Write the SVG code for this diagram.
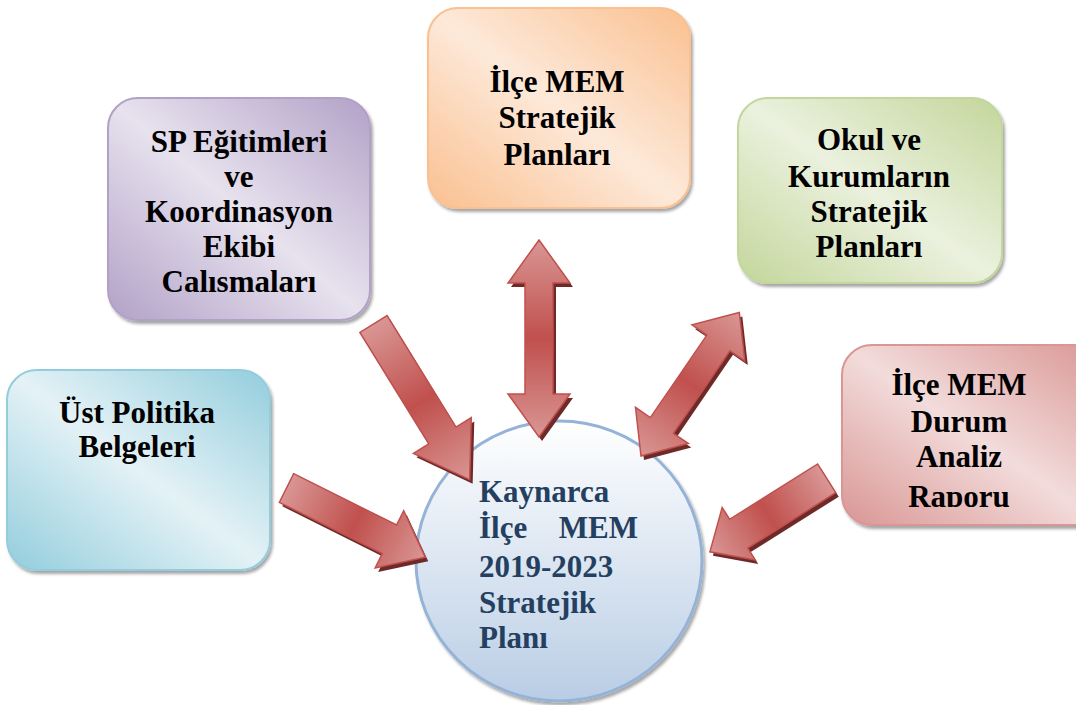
<svg xmlns="http://www.w3.org/2000/svg" width="1076" height="705" viewBox="0 0 1076 705">
<style>
.t{font-family:"Liberation Serif","Times New Roman",serif;font-weight:bold;font-size:31px;fill:#000;text-anchor:middle}
.c{font-family:"Liberation Serif","Times New Roman",serif;font-weight:bold;font-size:31px;fill:#243f60}
.box{stroke-width:2;filter:url(#sh)}
.arr{fill:url(#ag);stroke:#c0504d;stroke-width:1.5;stroke-linejoin:miter}
.ash{fill:#6e2a29}
</style>
<defs>
<filter id="sh" x="-10%" y="-10%" width="125%" height="125%">
<feDropShadow dx="2" dy="3" stdDeviation="1.5" flood-color="#000" flood-opacity="0.35"/>
</filter>
<linearGradient id="gBlue" x1="1" y1="0" x2="0" y2="1"><stop offset="0" stop-color="#93cddd"/><stop offset="0.5" stop-color="#e4f2f6"/><stop offset="1" stop-color="#93cddd"/></linearGradient>
<linearGradient id="gPurple" x1="1" y1="0" x2="0" y2="1"><stop offset="0" stop-color="#b2a1c7"/><stop offset="0.5" stop-color="#e7e2ee"/><stop offset="1" stop-color="#b2a1c7"/></linearGradient>
<linearGradient id="gOrange" x1="1" y1="0" x2="0" y2="1"><stop offset="0" stop-color="#fac090"/><stop offset="0.5" stop-color="#fde9d9"/><stop offset="1" stop-color="#fac090"/></linearGradient>
<linearGradient id="gGreen" x1="1" y1="0" x2="0" y2="1"><stop offset="0" stop-color="#c3d69b"/><stop offset="0.5" stop-color="#ebf1de"/><stop offset="1" stop-color="#c3d69b"/></linearGradient>
<linearGradient id="gPink" x1="1" y1="0" x2="0" y2="1"><stop offset="0" stop-color="#d99694"/><stop offset="0.5" stop-color="#f2dcdb"/><stop offset="1" stop-color="#d99694"/></linearGradient>
<linearGradient id="gCircle" x1="0" y1="0" x2="0" y2="1"><stop offset="0" stop-color="#ffffff"/><stop offset="1" stop-color="#b9cde5"/></linearGradient>
<linearGradient id="ag" x1="0" y1="0" x2="1" y2="0"><stop offset="0" stop-color="#d99694"/><stop offset="0.5" stop-color="#c0504d"/><stop offset="1" stop-color="#d99694"/></linearGradient>
<clipPath id="clipPink"><rect x="830" y="330" width="260" height="177"/></clipPath>
</defs>
<rect width="1076" height="705" fill="#fff"/>

<g id="node-ust">
<rect class="box" x="7" y="370" width="263" height="200" rx="30" fill="url(#gBlue)" stroke="#93cddd"/>
<text class="t" x="137" y="423">Üst Politika</text>
<text class="t" x="137" y="457">Belgeleri</text>
</g>

<g id="node-sp">
<rect class="box" x="108" y="98" width="262" height="222" rx="30" fill="url(#gPurple)" stroke="#b2a1c7"/>
<text class="t" x="239" y="152">SP Eğitimleri</text>
<text class="t" x="239" y="187">ve</text>
<text class="t" x="239" y="222">Koordinasyon</text>
<text class="t" x="239" y="257">Ekibi</text>
<text class="t" x="239" y="292">Calısmaları</text>
</g>

<g id="node-ilce">
<rect class="box" x="428" y="8" width="262" height="200" rx="30" fill="url(#gOrange)" stroke="#fac090"/>
<text class="t" x="557" y="92">İlçe MEM</text>
<text class="t" x="557" y="128">Stratejik</text>
<text class="t" x="557" y="165">Planları</text>
</g>

<g id="node-okul">
<rect class="box" x="738" y="98" width="264" height="185" rx="30" fill="url(#gGreen)" stroke="#c3d69b"/>
<text class="t" x="869" y="150">Okul ve</text>
<text class="t" x="869" y="187">Kurumların</text>
<text class="t" x="869" y="222">Stratejik</text>
<text class="t" x="869" y="257">Planları</text>
</g>

<g id="node-durum">
<rect class="box" x="842" y="345" width="262" height="180" rx="30" fill="url(#gPink)" stroke="#d99694"/>
<g clip-path="url(#clipPink)">
<text class="t" x="959" y="395">İlçe MEM</text>
<text class="t" x="959" y="432">Durum</text>
<text class="t" x="959" y="467">Analiz</text>
<text class="t" x="959" y="507">Raporu</text>
</g>
</g>

<g id="node-center">
<ellipse cx="559" cy="561" rx="143" ry="140" fill="url(#gCircle)" stroke="#95b3d7" stroke-width="3" filter="url(#sh)"/>
<text class="c" x="479" y="502">Kaynarca</text>
<text class="c" x="479" y="538">İlçe</text>
<text class="c" x="638" y="538" text-anchor="end">MEM</text>
<text class="c" x="479" y="577">2019-2023</text>
<text class="c" x="479" y="613">Stratejik</text>
<text class="c" x="479" y="648">Planı</text>
</g>

<g id="connectors">
<g transform="translate(3,4)">
<polygon class="ash" transform="translate(286.5,488) rotate(26.5)" points="0,-16 115,-16 115,-32 155,0 115,32 115,16 0,16"/>
<polygon class="ash" transform="translate(373.5,324) rotate(58.3)" points="0,-16 131,-16 131,-34 183,0 131,34 131,16 0,16"/>
<polygon class="ash" transform="translate(539,240) rotate(90)" points="0,0 43,-31 43,-14 154,-14 154,-31 197,0 154,31 154,14 43,14 43,31"/>
<polygon class="ash" transform="translate(641,456) rotate(-55.6)" points="0,0 37,-32 37,-14 137,-14 137,-32 174,0 137,32 137,14 37,14 37,32"/>
<polygon class="ash" transform="translate(826.7,478.3) rotate(147.8)" points="0,-17 104,-17 104,-31 138,0 104,31 104,17 0,17"/>
</g>
<polygon id="arrow-ust" class="arr" transform="translate(286.5,488) rotate(26.5)" points="0,-16 115,-16 115,-32 155,0 115,32 115,16 0,16"/>
<polygon id="arrow-sp" class="arr" transform="translate(373.5,324) rotate(58.3)" points="0,-16 131,-16 131,-34 183,0 131,34 131,16 0,16"/>
<polygon id="arrow-ilce" class="arr" transform="translate(539,240) rotate(90)" points="0,0 43,-31 43,-14 154,-14 154,-31 197,0 154,31 154,14 43,14 43,31"/>
<polygon id="arrow-okul" class="arr" transform="translate(641,456) rotate(-55.6)" points="0,0 37,-32 37,-14 137,-14 137,-32 174,0 137,32 137,14 37,14 37,32"/>
<polygon id="arrow-durum" class="arr" transform="translate(826.7,478.3) rotate(147.8)" points="0,-17 104,-17 104,-31 138,0 104,31 104,17 0,17"/>
</g>
</svg>
